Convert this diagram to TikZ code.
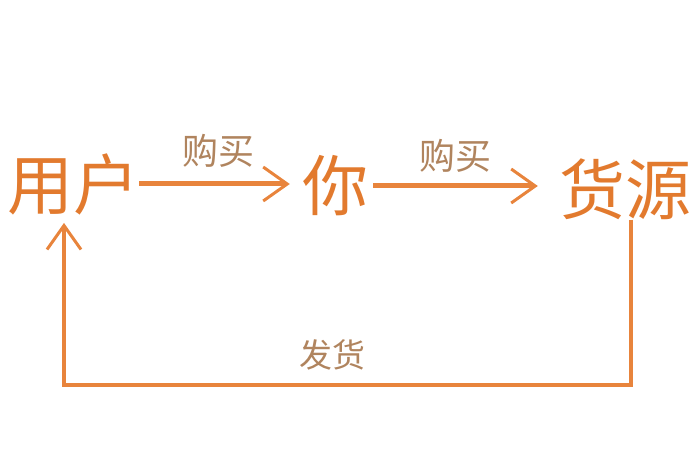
\documentclass[tikz,border=0pt]{standalone}
\usepackage{fontspec}
\usepackage{tikz}
\usetikzlibrary{arrows.meta}
\newfontfamily\cjk{Noto Sans CJK SC}
\definecolor{lineorange}{HTML}{E8843C}
\definecolor{textorange}{HTML}{E27A2E}
\definecolor{labelbrown}{HTML}{B0845E}
\tikzset{
  party/.style={inner sep=0pt, text=textorange, font=\cjk\fontsize{66pt}{66pt}\selectfont},
  verb/.style={inner sep=0pt, text=labelbrown, font=\cjk\fontsize{36pt}{36pt}\selectfont},
  flow/.style={draw=lineorange, line width=5pt, -{Straight Barb[length=24pt,width=34pt,line width=3pt]}}
}
\begin{document}
\begin{tikzpicture}[x=1pt,y=-1pt]
            \useasboundingbox (0,0) rectangle (700,470);
            \node[party] (yonghu) at (73,184) {用户};
            \node[party] (ni) at (335,186) {你};
            \node[party] (huoyuan) at (625,189) {货源};
            \node[verb] (buy1) at (218,151) {购买};
            \node[verb] (buy2) at (455,156) {购买};
            \node[verb, font=\cjk\fontsize{33pt}{33pt}\selectfont] (ship) at (332,355) {发货};
            \draw[flow, shorten >=12pt] (yonghu.east) -- (yonghu.east -| ni.west);
            \draw[flow, shorten <=5pt, shorten >=21pt] (ni.east) -- (ni.east -| huoyuan.west);
            % back from the supplier to the user
            \coordinate (turnR) at (631,385);
            \coordinate (turnL) at (64,385);
            \draw[flow, line width=4pt, shorten >=8pt] (huoyuan.south -| turnR) -- (turnR) -- (turnL) -- (yonghu.south -| turnL);
        \end{tikzpicture}
\end{document}
